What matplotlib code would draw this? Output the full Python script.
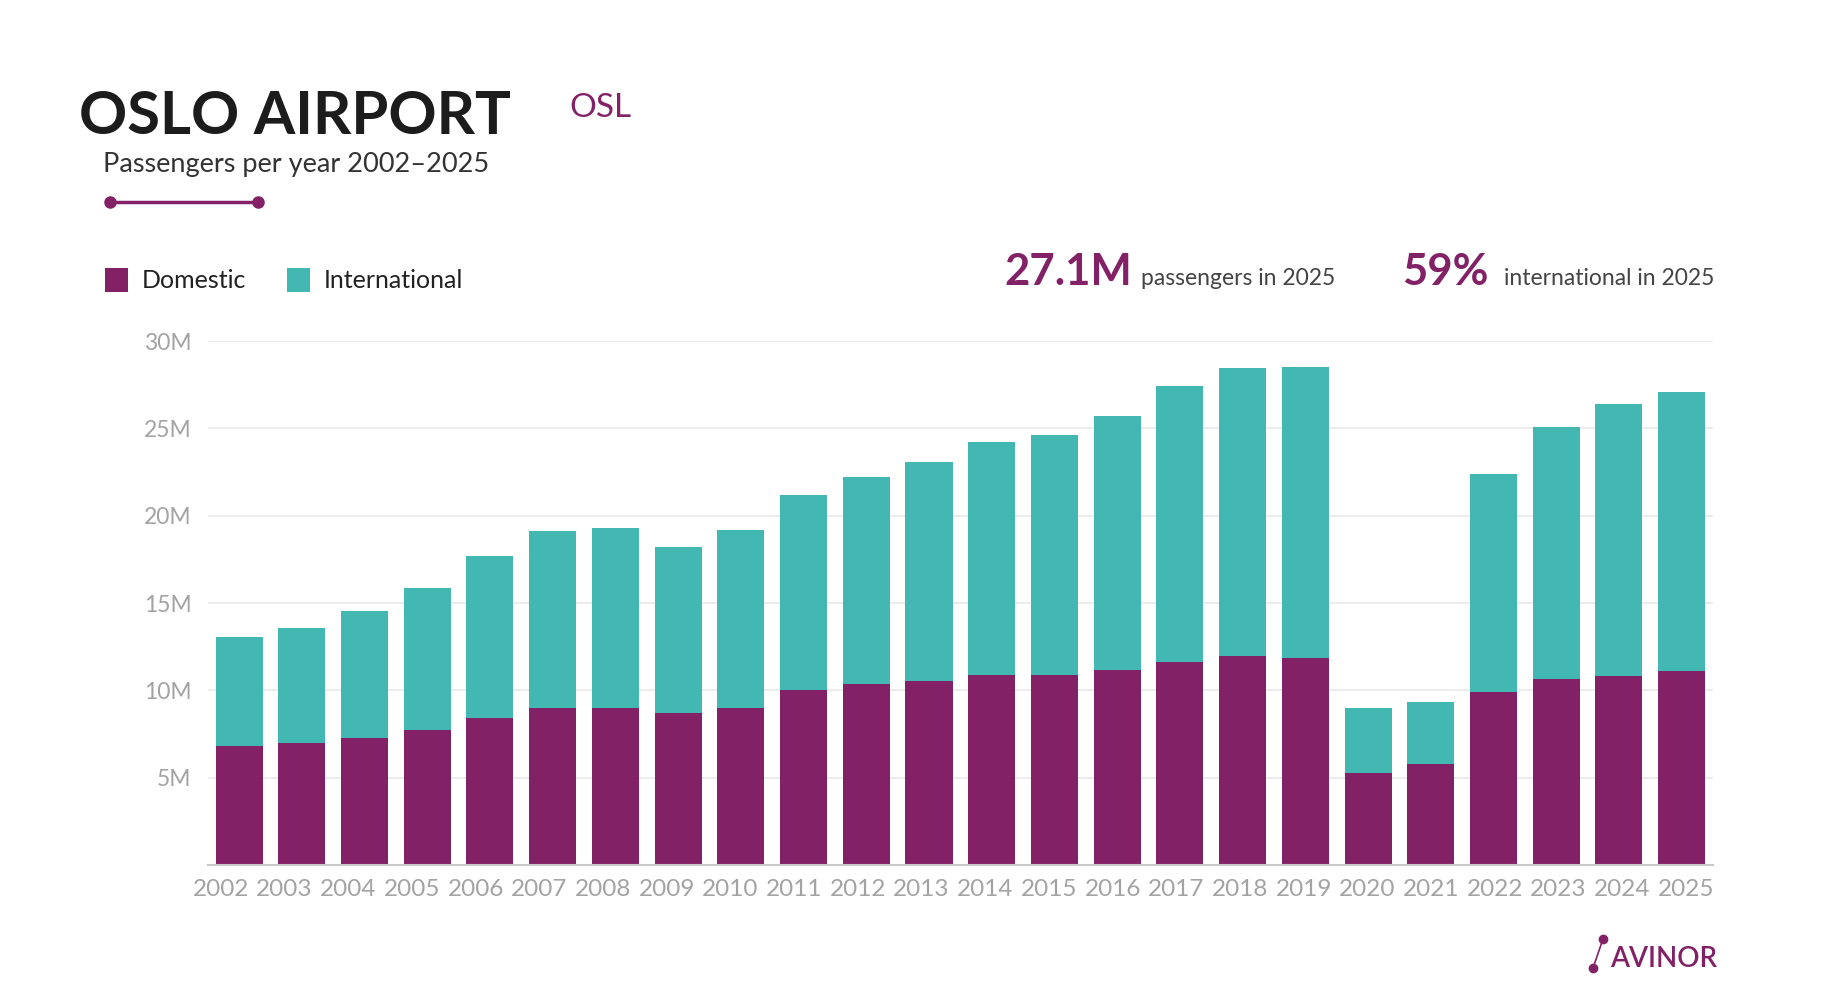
import numpy as np
import matplotlib
matplotlib.use('Agg')
from matplotlib import pyplot as plt
from matplotlib.lines import Line2D
from matplotlib.patches import Rectangle

### 1. DATA (millions of passengers)
years = [2002, 2003, 2004, 2005, 2006, 2007, 2008, 2009, 2010, 2011, 2012, 2013,
         2014, 2015, 2016, 2017, 2018, 2019, 2020, 2021, 2022, 2023, 2024, 2025]
domestic = [6.79, 7.01, 7.27, 7.73, 8.43, 8.96, 9.00, 8.71, 9.00, 10.01, 10.36, 10.55,
            10.88, 10.88, 11.19, 11.60, 11.98, 11.85, 5.26, 5.80, 9.92, 10.64, 10.84, 11.10]
international = [6.28, 6.57, 7.25, 8.14, 9.26, 10.16, 10.29, 9.49, 10.16, 11.16, 11.84, 12.53,
                 13.32, 13.73, 14.54, 15.81, 16.46, 16.68, 3.72, 3.55, 12.48, 14.45, 15.54, 16.00]
series_names = ['Domestic', 'International']
y_ticks = [5, 10, 15, 20, 25, 30]
y_tick_labels = ['5M', '10M', '15M', '20M', '25M', '30M']

### 2. STYLE
W, H = 1840, 1008
purple = '#832167'
teal = '#43b8b2'
plt.rcParams['font.family'] = ['Lato', 'DejaVu Sans']

def fx(px):
    return px / W

def fy(py):
    return 1 - py / H

### 3. FIGURE
fig = plt.figure(figsize=(W / 100, H / 100), dpi=100)
ax = fig.add_axes([fx(207.7), fy(865), fx(1713) - fx(207.7), fy(341) - fy(865)])

x = np.arange(len(years))
ax.bar(x, domestic, width=0.75, color=purple, zorder=2)
ax.bar(x, international, width=0.75, bottom=domestic, color=teal, zorder=2)

ax.set_xlim(-0.5, len(years) - 0.5)
ax.set_ylim(0, 30)
# year labels are spread edge to edge of the axis, slightly wider than the bars
ax.set_xticks(np.linspace(-0.29, len(years) - 0.93, len(years)))
ax.set_xticklabels([str(y) for y in years], fontsize=17.5, color='#a3a3a3')
ax.set_yticks(y_ticks)
ax.set_yticklabels(y_tick_labels, fontsize=16.5, color='#a3a3a3')
ax.tick_params(axis='both', length=0)
ax.tick_params(axis='x', pad=10)
ax.tick_params(axis='y', pad=11.5)
ax.grid(axis='y', color='#ebebeb', lw=1.3)
ax.set_axisbelow(True)
for s in ['top', 'right', 'left']:
    ax.spines[s].set_visible(False)
ax.spines['bottom'].set_color('#c8c8c8')
ax.spines['bottom'].set_linewidth(1.5)

### 4. HEADER
fig.text(fx(79), fy(134), 'OSLO AIRPORT', fontsize=43, fontweight='bold', color='#1c1c1c', va='baseline')
fig.text(fx(569), fy(117), 'OSL', fontsize=24, color=purple, va='baseline')
fig.text(fx(103), fy(172), 'Passengers per year %d\u2013%d' % (years[0], years[-1]),
         fontsize=19.5, color='#333333', va='baseline')
fig.add_artist(Line2D([fx(110), fx(258)], [fy(202), fy(202)], transform=fig.transFigure,
                      color=purple, lw=2.5, marker='o', ms=8, markevery=[0, 1]))

# legend
legend_x = [(105, 142), (287, 324)]
for (sx, tx), name, col in zip(legend_x, series_names, [purple, teal]):
    fig.add_artist(Rectangle((fx(sx), fy(292)), fx(23), 24 / H, transform=fig.transFigure,
                             color=col, lw=0))
    fig.text(fx(tx), fy(280), name, fontsize=18, color='#222222', va='center')

# headline numbers
total_last = domestic[-1] + international[-1]
share_intl = international[-1] / total_last * 100
fig.text(fx(1004), fy(285), '%.1fM' % total_last, fontsize=31.5, fontweight='bold', color=purple, va='baseline')
fig.text(fx(1141), fy(285), 'passengers in %d' % years[-1], fontsize=16.5, color='#444444', va='baseline')
fig.text(fx(1402), fy(285), '%d%%' % round(share_intl), fontsize=31.5, fontweight='bold', color=purple, va='baseline')
fig.text(fx(1504), fy(285), 'international in %d' % years[-1], fontsize=16.5, color='#444444', va='baseline')

### 5. LOGO
fig.add_artist(Line2D([fx(1593), fx(1603)], [fy(968), fy(939)], transform=fig.transFigure,
                      color=purple, lw=1.2, marker='o', ms=6, markevery=[0, 1]))
fig.text(fx(1610), fy(967), 'AVINOR', fontsize=20, fontweight='semibold', color=purple, va='baseline')

fig.savefig('out.png', dpi=100, facecolor='white')
